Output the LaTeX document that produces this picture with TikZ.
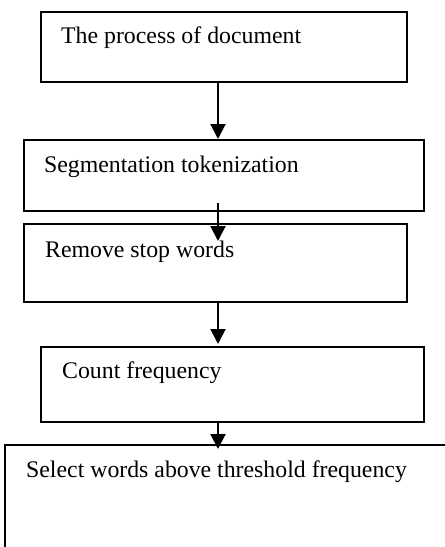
\documentclass[tikz,border=0pt]{standalone}
\usepackage{fontspec}
\setmainfont{Liberation Serif}
\usetikzlibrary{arrows.meta,calc}

\tikzset{
  stagebox/.style={draw, line width=2pt, rectangle, inner sep=0pt},
  stagetext/.style={anchor=base west, inner sep=0pt, font=\fontsize{23.8}{28}\selectfont},
  flow/.style={line width=2pt, -{Triangle[length=15pt,width=15pt]}}
}

\begin{document}
\begin{tikzpicture}[x=1pt, y=-1pt]
  \useasboundingbox (0,0) rectangle (445,547);

  % column along which the arrows run
  \coordinate (col) at (218,0);

  % stage boxes
  \node[stagebox, minimum width=366pt, minimum height=70pt] (b1) at (224,47) {};
  \node[stagebox, minimum width=400pt, minimum height=71pt] (b2) at (224,175.5) {};
  \node[stagebox, minimum width=383pt, minimum height=78pt] (b3) at (215.5,263) {};
  \node[stagebox, minimum width=383pt, minimum height=75pt] (b4) at (232.5,384.5) {};
  \node[stagebox, minimum width=460pt, minimum height=140pt] (b5) at (235,515) {};

  % stage labels
  \node[stagetext] at (61,43.5) {The process of document};
  \node[stagetext] at (44,172) {Segmentation tokenization};
  \node[stagetext] at (45,257.5) {Remove stop words};
  \node[stagetext] at (62,378.5) {Count frequency};
  \node[stagetext] at (26,477) {Select words above threshold frequency};

  % connectors
  \draw[flow] (b1.south -| col) -- (b2.north -| col);
  \draw[flow] ($(b2.south -| col)+(0,-9)$) -- ($(b3.north -| col)+(0,18)$);
  \draw[flow] (b3.south -| col) -- ($(b4.north -| col)+(0,-2)$);
  \draw[flow] (b4.south -| col) -- ($(b5.north -| col)+(0,5)$);
\end{tikzpicture}
\end{document}
